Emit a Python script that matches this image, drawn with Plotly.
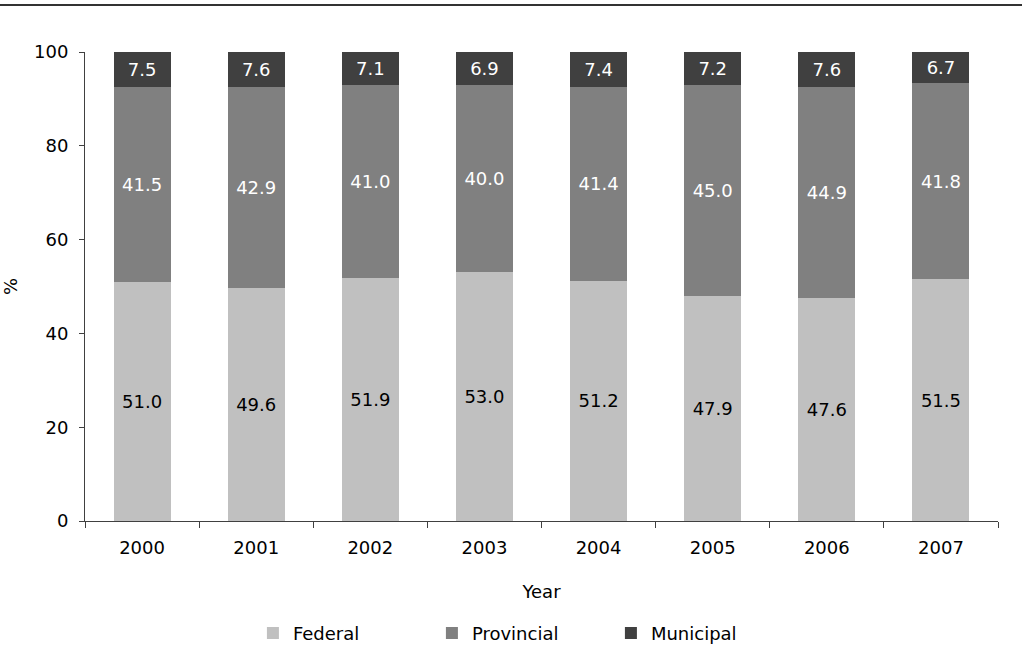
import plotly.graph_objects as go

years = ["2000", "2001", "2002", "2003", "2004", "2005", "2006", "2007"]
federal = [51.0, 49.6, 51.9, 53.0, 51.2, 47.9, 47.6, 51.5]
provincial = [41.5, 42.9, 41.0, 40.0, 41.4, 45.0, 44.9, 41.8]
municipal = [7.5, 7.6, 7.1, 6.9, 7.4, 7.2, 7.6, 6.7]

series = [
    ("Federal", federal, "#c0c0c0", "#000000"),
    ("Provincial", provincial, "#808080", "#ffffff"),
    ("Municipal", municipal, "#404040", "#ffffff"),
]

FONT = "DejaVu Sans, Verdana, sans-serif"
FS = 18
AXIS_COLOR = "#404040"

fig = go.Figure()
for name, vals, color, txtcolor in series:
    fig.add_trace(go.Bar(
        x=years,
        y=vals,
        name=name,
        marker=dict(color=color, line=dict(width=0)),
        width=0.5,
        texttemplate="%{y:.1f}",
        textposition="inside",
        insidetextanchor="middle",
        textangle=0,
        constraintext="none",
        textfont=dict(family=FONT, size=FS, color=txtcolor),
        hoverinfo="x+y+name",
    ))

fig.update_layout(
    barmode="stack",
    width=1028,
    height=665,
    margin=dict(l=85, r=30, t=52, b=144),
    paper_bgcolor="white",
    plot_bgcolor="white",
    font=dict(family=FONT, size=FS, color="#000000"),
    xaxis=dict(
        title=dict(text="Year", standoff=28, font=dict(size=FS)),
        automargin=False,
        tickson="boundaries",
        ticks="outside",
        ticklen=6,
        tickwidth=1,
        tickcolor=AXIS_COLOR,
        ticklabelstandoff=10,
        showline=True,
        linecolor=AXIS_COLOR,
        linewidth=1,
        showgrid=False,
        zeroline=False,
        tickfont=dict(size=FS),
    ),
    yaxis=dict(
        title=dict(text="%", standoff=20, font=dict(size=FS)),
        automargin=False,
        range=[0, 100],
        tickvals=[0, 20, 40, 60, 80, 100],
        ticks="outside",
        ticklen=5,
        tickwidth=1,
        tickcolor=AXIS_COLOR,
        ticklabelstandoff=7,
        showline=True,
        linecolor=AXIS_COLOR,
        linewidth=1,
        showgrid=False,
        zeroline=False,
        tickfont=dict(size=FS),
    ),
    legend=dict(
        orientation="h",
        x=0.478,
        xanchor="center",
        y=-0.2,
        yanchor="top",
        font=dict(size=FS),
        entrywidthmode="pixels",
        entrywidth=134,
        traceorder="normal",
    ),
    bargap=0.5,
    showlegend=True,
)

# rule across the top of the figure
fig.add_shape(
    type="line",
    xref="paper", yref="paper",
    x0=-85 / 913, x1=937 / 913,
    y0=516 / 469, y1=516 / 469,
    line=dict(color="#333333", width=2),
)

fig.write_html("out.html")
